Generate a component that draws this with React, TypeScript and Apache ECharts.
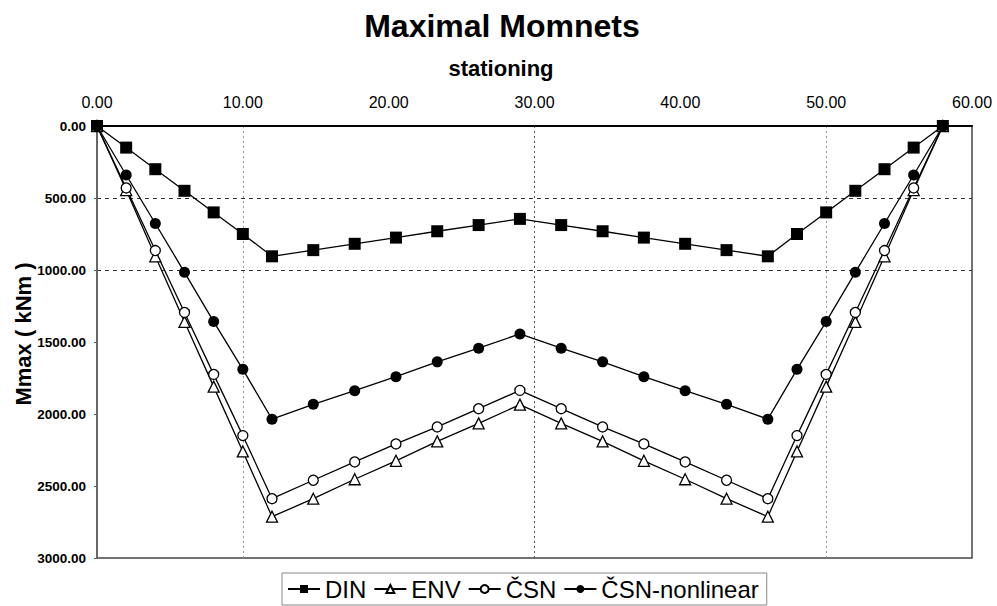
import React, { useEffect, useRef } from "react";
import * as echarts from "echarts";

const stationing = [0, 2, 4, 6, 8, 10, 12, 14.83, 17.67, 20.5, 23.33, 26.17, 29, 31.83, 34.67, 37.5, 40.33, 43.17, 46, 48, 50, 52, 54, 56, 58];
const din = [0, 150, 300, 450, 600, 750, 905, 862, 818, 775, 731, 688, 645, 688, 731, 775, 818, 862, 905, 750, 600, 450, 300, 150, 0];
const env = [0, 445, 905, 1360, 1810, 2260, 2713, 2588, 2453, 2325, 2190, 2065, 1935, 2065, 2190, 2325, 2453, 2588, 2713, 2260, 1810, 1360, 905, 445, 0];
const csn = [0, 430, 865, 1295, 1725, 2150, 2588, 2460, 2333, 2208, 2090, 1963, 1836, 1963, 2090, 2208, 2333, 2460, 2588, 2150, 1725, 1295, 865, 430, 0];
const csnNonlinear = [0, 340, 677, 1016, 1358, 1690, 2036, 1933, 1838, 1741, 1638, 1543, 1444, 1543, 1638, 1741, 1838, 1933, 2036, 1690, 1358, 1016, 677, 340, 0];

const seriesNames = ["DIN", "ENV", "ČSN", "ČSN-nonlinear"];
const titleText = "Maximal Momnets";
const xAxisTitle = "stationing";
const yAxisTitle = "Mmax ( kNm )";

const FONT = "'Liberation Sans', Arial, sans-serif";

const pair = (ys: number[]) => stationing.map((x, i) => [x, ys[i]]);

export default function App() {
  const ref = useRef<HTMLDivElement>(null);
  useEffect(() => {
    if (!ref.current) return;
    const chart = echarts.init(ref.current, undefined, { renderer: "svg" });
    const lineBase = {
      type: "line" as const,
      lineStyle: { color: "#000", width: 1.3 },
      emphasis: { disabled: true },
    };
    chart.setOption({
      animation: false,
      backgroundColor: "#fff",
      textStyle: { fontFamily: FONT },
      grid: { left: 97, right: 25, top: 126, bottom: 48, show: true, borderColor: "#444", borderWidth: 1.5, backgroundColor: "transparent" },
      graphic: [
        { type: "text", x: 502, y: 26, style: { text: titleText, font: `bold 32px ${FONT}`, fill: "#000", textAlign: "center", textVerticalAlign: "middle" } },
        { type: "text", x: 501, y: 68, style: { text: xAxisTitle, font: `bold 22px ${FONT}`, fill: "#000", textAlign: "center", textVerticalAlign: "middle" } },
        { type: "text", x: 23, y: 334, rotation: Math.PI / 2, style: { text: yAxisTitle, font: `bold 22px ${FONT}`, fill: "#000", textAlign: "center", textVerticalAlign: "middle" } },
      ],
      legend: {
        left: 282,
        top: 573,
        padding: [4, 8, 4, 5],
        itemGap: 7,
        itemWidth: 32,
        itemHeight: 10,
        borderColor: "#888",
        borderWidth: 1,
        borderRadius: 0,
        textStyle: { fontSize: 24, color: "#000", fontFamily: FONT },
        data: seriesNames,
      },
      xAxis: {
        type: "value",
        position: "top",
        min: 0,
        max: 60,
        interval: 10,
        axisLine: { show: true, onZero: false, lineStyle: { color: "#000", width: 2 } },
        axisTick: { show: false },
        axisLabel: { fontSize: 16, color: "#000", margin: 16, fontFamily: FONT, formatter: (v: number) => v.toFixed(2) },
        splitLine: {
          show: true,
          showMinLine: true,
          showMaxLine: true,
          lineStyle: { color: ["transparent", "#999", "transparent", "#555", "transparent", "#999", "transparent"], type: [2, 3], width: 1 },
        },
      },
      yAxis: {
        type: "value",
        inverse: true,
        min: 0,
        max: 3000,
        interval: 500,
        axisLine: { show: true, onZero: false, lineStyle: { color: "#666", width: 2 } },
        axisTick: { show: true, length: 3, lineStyle: { color: "#666" } },
        axisLabel: { fontSize: 13.5, fontWeight: "bold", color: "#000", margin: 11, fontFamily: FONT, formatter: (v: number) => v.toFixed(2) },
        splitLine: {
          show: true,
          showMinLine: true,
          showMaxLine: true,
          lineStyle: { color: ["transparent", "#333", "#333", "transparent", "transparent", "transparent", "transparent"], type: [4, 4], width: 1 },
        },
      },
      series: [
        { ...lineBase, name: seriesNames[0], data: pair(din), symbol: "rect", symbolSize: 12, itemStyle: { color: "#000", borderColor: "#000", borderWidth: 0 } },
        { ...lineBase, name: seriesNames[1], data: pair(env), symbol: "triangle", symbolSize: 11, itemStyle: { color: "#fff", borderColor: "#000", borderWidth: 1.3 } },
        { ...lineBase, name: seriesNames[2], data: pair(csn), symbol: "circle", symbolSize: 10, itemStyle: { color: "#fff", borderColor: "#000", borderWidth: 1.3 } },
        { ...lineBase, name: seriesNames[3], data: pair(csnNonlinear), symbol: "circle", symbolSize: 11, itemStyle: { color: "#000", borderColor: "#000", borderWidth: 0 } },
      ],
    });
    return () => chart.dispose();
  }, []);
  return <div ref={ref} style={{ position: "fixed", left: 0, top: 0, width: 997, height: 606 }} />;
}
